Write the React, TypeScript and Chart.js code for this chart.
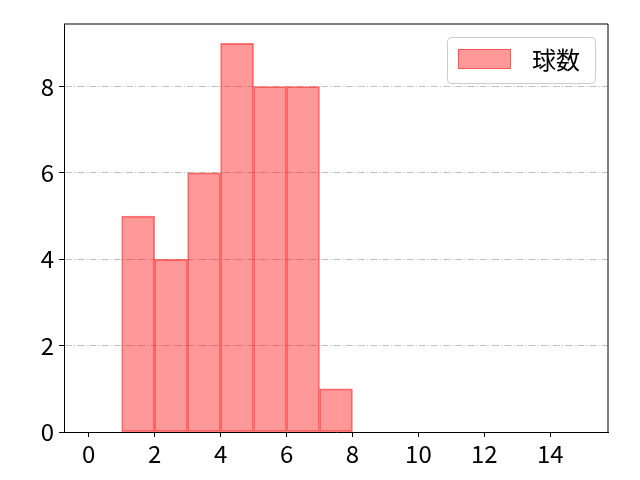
import React, { useEffect, useRef } from "react";
import { Chart, registerables } from "chart.js";

Chart.register(...registerables);

const binStarts = [1, 2, 3, 4, 5, 6, 7];
const counts = [5, 4, 6, 9, 8, 8, 1];
const xTicks = [0, 2, 4, 6, 8, 10, 12, 14];
const yTicks = [0, 2, 4, 6, 8];
const seriesLabel = "球数";

const FONT = "'Noto Sans CJK JP', 'Noto Sans', sans-serif";
const FONT_SIZE = 24;

const framePlugin = {
  id: "frame",
  afterDraw(chart: any) {
    const { ctx, chartArea } = chart;
    ctx.save();
    ctx.strokeStyle = "#000";
    ctx.lineWidth = 1;
    ctx.beginPath();
    ctx.moveTo(chartArea.left, chartArea.top);
    ctx.lineTo(chartArea.right, chartArea.top);
    ctx.lineTo(chartArea.right, chartArea.bottom);
    ctx.stroke();
    ctx.restore();

    // legend box
    const ds = chart.data.datasets[0];
    const boxRight = chartArea.right - 13;
    const boxTop = chartArea.top + 13;
    const boxW = 148;
    const boxH = 46;
    const bx = boxRight - boxW;
    ctx.save();
    ctx.fillStyle = "rgba(255,255,255,0.8)";
    ctx.strokeStyle = "#cccccc";
    ctx.lineWidth = 1;
    ctx.beginPath();
    (ctx as any).roundRect(bx + 0.5, boxTop + 0.5, boxW, boxH, 4);
    ctx.fill();
    ctx.stroke();
    ctx.fillStyle = ds.backgroundColor;
    ctx.strokeStyle = "rgba(255,0,0,0.45)";
    ctx.fillRect(bx + 11, boxTop + 12, 53, 20);
    ctx.strokeRect(bx + 11.5, boxTop + 12.5, 52, 19);
    ctx.fillStyle = "#000";
    ctx.font = `${FONT_SIZE}px ${FONT}`;
    ctx.textBaseline = "middle";
    ctx.textAlign = "left";
    ctx.fillText(ds.label, bx + 85, boxTop + 23);
    ctx.restore();
  },
};

export default function App() {
  const ref = useRef<HTMLCanvasElement | null>(null);
  useEffect(() => {
    document.body.style.margin = "0";
    const canvas = ref.current!;
    const chart = new Chart(canvas, {
      type: "bar",
      data: {
        datasets: [
          {
            label: seriesLabel,
            data: binStarts.map((s, i) => ({ x: s + 0.5, y: counts[i] })),
            backgroundColor: "rgba(255,0,0,0.4)",
            borderColor: "rgba(255,40,40,0.6)",
            borderWidth: 1,
            borderSkipped: false,
            barPercentage: 1,
            categoryPercentage: 1,
            grouped: false,
          },
        ],
      },
      options: {
        animation: false,
        responsive: false,
        maintainAspectRatio: false,
        layout: { padding: { left: 0, top: 24, right: 32, bottom: 0 } },
        plugins: { legend: { display: false }, tooltip: { enabled: false } },
        scales: {
          x: {
            type: "linear",
            min: -0.75,
            max: 15.75,
            offset: false,
            afterBuildTicks: (s: any) => {
              s.ticks = xTicks.map((v) => ({ value: v }));
            },
            afterFit: (s: any) => {
              s.height = 48;
            },
            grid: {
              display: true,
              offset: false,
              drawOnChartArea: false,
              drawTicks: true,
              tickLength: 5,
              tickColor: "#000",
              tickWidth: 1,
            },
            border: { display: true, color: "#000", width: 1 },
            ticks: {
              color: "#000",
              padding: 2,
              maxRotation: 0,
              autoSkip: false,
              font: { family: FONT, size: FONT_SIZE },
            },
          },
          y: {
            type: "linear",
            min: 0,
            max: 9.45,
            afterBuildTicks: (s: any) => {
              s.ticks = yTicks.map((v) => ({ value: v }));
            },
            afterFit: (s: any) => {
              s.width = 64;
            },
            grid: {
              display: true,
              drawOnChartArea: true,
              drawTicks: true,
              tickLength: 5,
              color: "#b0b0b0",
              lineWidth: 0.8,
              tickColor: "#000",
              tickWidth: 1,
              tickBorderDash: [],
            },
            border: { display: true, color: "#000", width: 1, dash: [7, 2, 1.2, 2] },
            ticks: {
              color: "#000",
              padding: 5,
              autoSkip: false,
              font: { family: FONT, size: FONT_SIZE },
            },
          },
        },
      },
      plugins: [framePlugin],
    } as any);
    return () => chart.destroy();
  }, []);
  return <canvas ref={ref} width={640} height={480} style={{ display: "block" }} />;
}
